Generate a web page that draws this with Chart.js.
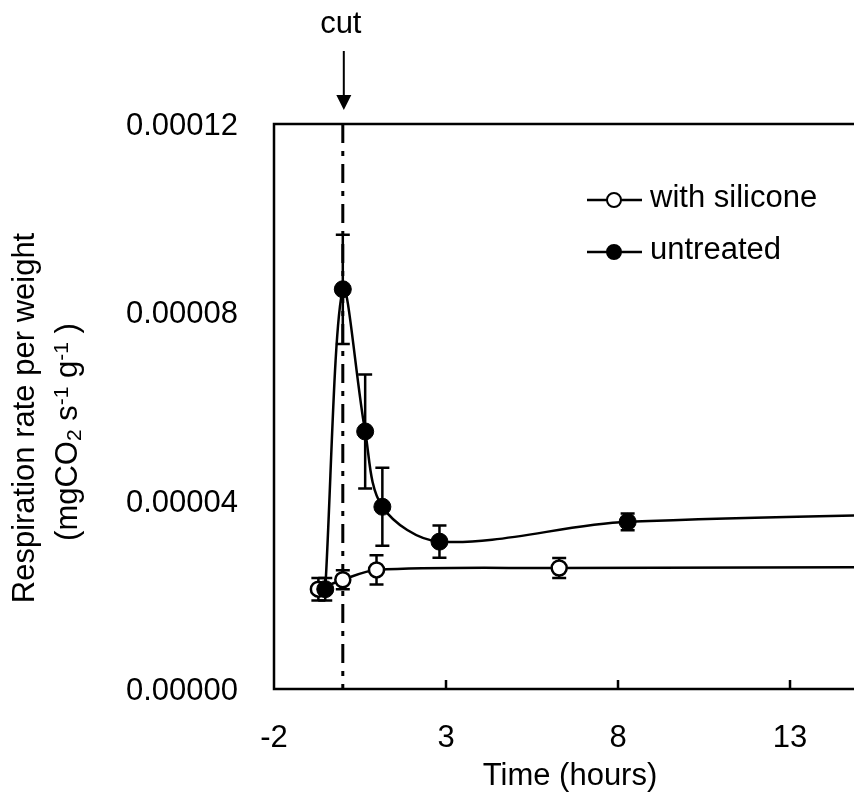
<!DOCTYPE html>
<html>
<head>
<meta charset="utf-8">
<script src="https://cdn.jsdelivr.net/npm/chart.js@4.4.1/dist/chart.umd.min.js"></script>
<style>
  html, body { margin: 0; padding: 0; background: #fff; overflow: hidden; }
  #wrap { width: 864px; height: 808px; position: relative; }
</style>
</head>
<body>
<div id="wrap"><canvas id="myChart"></canvas></div>
<script>
const FONT = 'Arial, "Liberation Sans", sans-serif';

// data (time in hours, rate in mgCO2 s-1 g-1)
const siliconeX   = [-0.71, 0, 0.98, 6.29, 24];
const siliconeY   = [2.12e-5, 2.32e-5, 2.53e-5, 2.57e-5, 2.60e-5];
const siliconeErr = [0.24e-5, 0.20e-5, 0.31e-5, 0.21e-5, 0.20e-5];

const untreatedX   = [-0.51, 0, 0.65, 1.15, 2.81, 8.28, 24];
const untreatedY   = [2.12e-5, 8.49e-5, 5.47e-5, 3.87e-5, 3.13e-5, 3.55e-5, 3.80e-5];
const untreatedErr = [0.24e-5, 1.16e-5, 1.21e-5, 0.83e-5, 0.34e-5, 0.18e-5, 0.20e-5];

const xTicks = [-2, 3, 8, 13];
const yTicks = [0, 0.00004, 0.00008, 0.00012];
const yTickLabels = ['0.00000', '0.00004', '0.00008', '0.00012'];
const cutTime = 0;

const toPoints = (xs, ys) => xs.map((v, i) => ({ x: v, y: ys[i] }));

const extras = {
  id: 'extras',
  beforeDatasetsDraw(chart) {
    const { ctx, chartArea: a, scales: { x, y } } = chart;
    // dash-dot "cut" line
    const cx = x.getPixelForValue(cutTime);
    ctx.save();
    ctx.strokeStyle = '#000';
    ctx.lineWidth = 3;
    ctx.setLineDash([19, 8, 5, 8]);
    ctx.beginPath();
    ctx.moveTo(cx, a.top);
    ctx.lineTo(cx, a.bottom);
    ctx.stroke();
    ctx.restore();

    // error bars
    ctx.save();
    ctx.strokeStyle = '#000';
    ctx.lineWidth = 2.5;
    chart.data.datasets.forEach((ds, i) => {
      const meta = chart.getDatasetMeta(i);
      meta.data.forEach((pt, j) => {
        if (pt.x > a.right) return;
        const v = ds.data[j].y, e = ds.errors[j];
        const top = y.getPixelForValue(v + e), bot = y.getPixelForValue(v - e);
        ctx.beginPath();
        ctx.moveTo(pt.x, top); ctx.lineTo(pt.x, bot);
        ctx.moveTo(pt.x - 7, top); ctx.lineTo(pt.x + 7, top);
        ctx.moveTo(pt.x - 7, bot); ctx.lineTo(pt.x + 7, bot);
        ctx.stroke();
      });
    });
    ctx.restore();
  },
  afterDraw(chart) {
    const { ctx, chartArea: a, scales: { x, y } } = chart;
    ctx.save();
    ctx.strokeStyle = '#000';
    ctx.fillStyle = '#000';
    ctx.lineWidth = 2.5;

    // frame (left, bottom, top)
    ctx.beginPath();
    ctx.moveTo(a.right, a.top);
    ctx.lineTo(a.left, a.top);
    ctx.lineTo(a.left, a.bottom);
    ctx.lineTo(a.right, a.bottom);
    ctx.stroke();

    // x ticks pointing inward
    ctx.beginPath();
    xTicks.forEach(t => {
      if (t === x.min) return;
      const px = x.getPixelForValue(t);
      ctx.moveTo(px, a.bottom);
      ctx.lineTo(px, a.bottom - 9);
    });
    ctx.stroke();

    ctx.font = '31px ' + FONT;
    ctx.textBaseline = 'alphabetic';
    ctx.textAlign = 'center';
    xTicks.forEach(t => ctx.fillText(String(t), x.getPixelForValue(t), a.bottom + 58));
    ctx.fillText('Time (hours)', 570, 785);

    ctx.textAlign = 'right';
    yTicks.forEach((t, i) => ctx.fillText(yTickLabels[i], 238, y.getPixelForValue(t) + 11));

    // y axis title, two lines rotated
    ctx.save();
    ctx.translate(34, 418);
    ctx.rotate(-Math.PI / 2);
    ctx.textAlign = 'center';
    ctx.fillText('Respiration rate per weight', 0, 0);
    ctx.restore();

    const parts = [
      { t: '(mgCO', k: 0 }, { t: '2', k: 1 }, { t: ' s', k: 0 }, { t: '-1', k: 2 },
      { t: ' g', k: 0 }, { t: '-1', k: 2 }, { t: ' )', k: 0 }
    ];
    const fontFor = k => (k === 0 ? '31px ' : '21px ') + FONT;
    let total = 0;
    parts.forEach(p => { ctx.font = fontFor(p.k); p.w = ctx.measureText(p.t).width; total += p.w; });
    ctx.save();
    ctx.translate(77, 432);
    ctx.rotate(-Math.PI / 2);
    ctx.textAlign = 'left';
    let pos = -total / 2;
    parts.forEach(p => {
      ctx.font = fontFor(p.k);
      const off = p.k === 1 ? 4 : (p.k === 2 ? -9 : 0);
      ctx.fillText(p.t, pos, off);
      pos += p.w;
    });
    ctx.restore();

    // "cut" label and arrow
    const cx = x.getPixelForValue(cutTime) + 1;
    ctx.font = '31px ' + FONT;
    ctx.textAlign = 'center';
    ctx.fillText('cut', cx - 3, 33);
    ctx.lineWidth = 2;
    ctx.beginPath();
    ctx.moveTo(cx, 51);
    ctx.lineTo(cx, 97);
    ctx.stroke();
    ctx.beginPath();
    ctx.moveTo(cx - 7.5, 95);
    ctx.lineTo(cx + 7.5, 95);
    ctx.lineTo(cx, 110);
    ctx.closePath();
    ctx.fill();

    // legend
    const items = [
      { label: 'with silicone', fill: '#fff', y: 200 },
      { label: 'untreated', fill: '#000', y: 252 }
    ];
    items.forEach(it => {
      ctx.lineWidth = 2.5;
      ctx.beginPath();
      ctx.moveTo(587, it.y);
      ctx.lineTo(642, it.y);
      ctx.stroke();
      ctx.beginPath();
      ctx.arc(614, it.y, 7, 0, Math.PI * 2);
      ctx.fillStyle = it.fill;
      ctx.fill();
      ctx.lineWidth = 2;
      ctx.stroke();
      ctx.fillStyle = '#000';
      ctx.textAlign = 'left';
      ctx.font = '31px ' + FONT;
      ctx.fillText(it.label, 650, it.y + 7);
    });
    ctx.restore();
  }
};

const ctx = document.getElementById('myChart').getContext('2d');
const myChart = new Chart(ctx, {
  type: 'scatter',
  data: {
    datasets: [{
      label: 'with silicone',
      data: toPoints(siliconeX, siliconeY),
      errors: siliconeErr,
      showLine: true,
      borderColor: '#000',
      borderWidth: 2.5,
      tension: 0.33,
      pointRadius: 7.5,
      pointBackgroundColor: '#fff',
      pointBorderColor: '#000',
      pointBorderWidth: 2.5,
      order: 1
    }, {
      label: 'untreated',
      data: toPoints(untreatedX, untreatedY),
      errors: untreatedErr,
      showLine: true,
      borderColor: '#000',
      borderWidth: 2.5,
      tension: 0.33,
      pointRadius: 8.5,
      pointBackgroundColor: '#000',
      pointBorderColor: '#000',
      pointBorderWidth: 1,
      order: 0
    }]
  },
  options: {
    responsive: true,
    maintainAspectRatio: false,
    animation: false,
    layout: { padding: { left: 274, top: 124, right: 0, bottom: 119 } },
    scales: {
      x: { type: 'linear', min: -2, max: 14.86, display: false },
      y: { type: 'linear', min: 0, max: 0.00012, display: false }
    },
    plugins: { legend: { display: false }, tooltip: { enabled: false } }
  },
  plugins: [extras]
});
</script>
</body>
</html>
